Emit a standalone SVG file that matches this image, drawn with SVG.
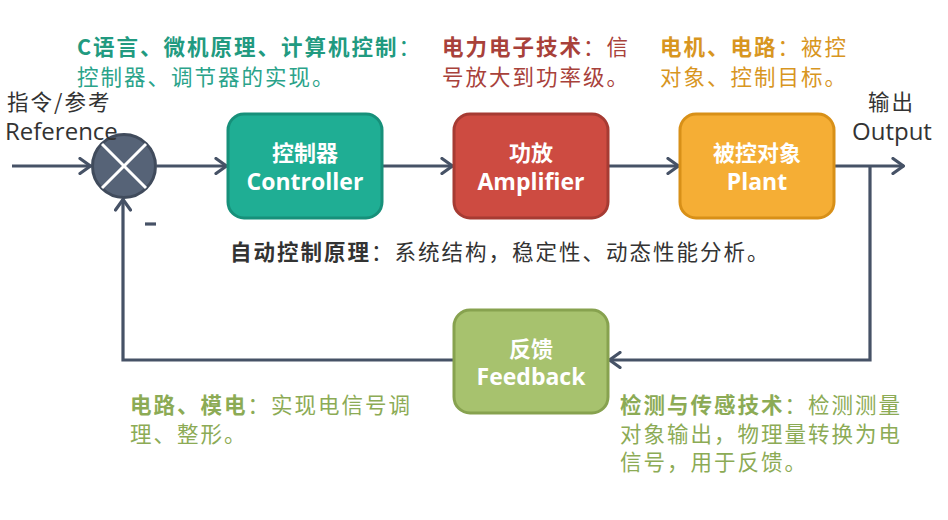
<svg xmlns="http://www.w3.org/2000/svg" width="948" height="520" viewBox="0 0 948 520">
<defs>
<marker id="arr" viewBox="0 0 14 18" refX="13" refY="9" markerWidth="14" markerHeight="18" markerUnits="userSpaceOnUse" orient="auto">
<path d="M2,1.5 L12.5,9 L2,16.5" fill="none" stroke="#465266" stroke-width="3.2" stroke-linecap="round" stroke-linejoin="round"/>
</marker>
<style>
.ln{fill:none;stroke:#465266;stroke-width:3.2}
.box{stroke-width:3}
.nt{font-family:"Open Sans","Noto Sans CJK SC",sans-serif;font-weight:bold;font-size:23px;fill:#ffffff;text-anchor:middle}
.nc{font-family:"Noto Sans CJK SC",sans-serif;font-size:22px}
.t{font-family:"Noto Sans CJK SC",sans-serif;font-size:21.5px;letter-spacing:2px}
.b{font-weight:bold}
.lat{font-family:"Open Sans","Noto Sans CJK SC",sans-serif;font-size:24px;fill:#333333}
</style>
</defs>
<rect width="948" height="520" fill="#ffffff"/>

<g id="connectors">
<line class="ln" x1="12" y1="166" x2="91" y2="166" marker-end="url(#arr)"/>
<line class="ln" x1="157" y1="166" x2="227" y2="166" marker-end="url(#arr)"/>
<line class="ln" x1="383" y1="166" x2="453" y2="166" marker-end="url(#arr)"/>
<line class="ln" x1="609" y1="166" x2="679" y2="166" marker-end="url(#arr)"/>
<line class="ln" x1="835" y1="166" x2="904" y2="166" marker-end="url(#arr)"/>
<polyline class="ln" points="870,166 870,360 609,360" marker-end="url(#arr)"/>
<polyline class="ln" points="453,360 123,360 123,199" marker-end="url(#arr)"/>
<line x1="145" y1="224" x2="156" y2="224" stroke="#465266" stroke-width="3.2"/>
</g>

<g id="sum">
<circle cx="124" cy="166" r="31.5" fill="#566377" stroke="#404b5c" stroke-width="3"/>
<line x1="102" y1="144" x2="146" y2="188" stroke="#ffffff" stroke-width="3"/>
<line x1="146" y1="144" x2="102" y2="188" stroke="#ffffff" stroke-width="3"/>
</g>

<g id="controller">
<rect class="box" x="228" y="114" width="154" height="104" rx="16" fill="#1fae94" stroke="#17907a"/>
<text class="nt" x="305" y="161"><tspan class="nc">控制器</tspan><tspan x="305" y="189.5">Controller</tspan></text>
</g>

<g id="amplifier">
<rect class="box" x="454" y="114" width="154" height="104" rx="16" fill="#cd4b41" stroke="#a63b33"/>
<text class="nt" x="531" y="161"><tspan class="nc">功放</tspan><tspan x="531" y="189.5">Amplifier</tspan></text>
</g>

<g id="plant">
<rect class="box" x="680" y="114" width="154" height="104" rx="16" fill="#f5ae35" stroke="#d89018"/>
<text class="nt" x="757" y="161"><tspan class="nc">被控对象</tspan><tspan x="757" y="189.5">Plant</tspan></text>
</g>

<g id="feedback">
<rect class="box" x="454" y="310" width="154" height="103" rx="16" fill="#a7c26e" stroke="#87a24f"/>
<text class="nt" x="531" y="357"><tspan class="nc">反馈</tspan><tspan x="531" y="385">Feedback</tspan></text>
</g>

<g id="labels">
<text class="t" x="7" y="110" fill="#333333">指令/参考</text>
<text class="lat" x="5" y="140">Reference</text>
<text class="t" x="868" y="110" fill="#333333">输出</text>
<text class="lat" x="852" y="140">Output</text>

<text class="t" x="77" y="55" fill="#219a80"><tspan class="b">C语言、微机原理、计算机控制</tspan>：</text>
<text class="t" x="77" y="85" fill="#2aa38a">控制器、调节器的实现。</text>

<text class="t" x="442" y="55" fill="#a8413a"><tspan class="b">电力电子技术</tspan>：信</text>
<text class="t" x="442" y="85" fill="#a8413a">号放大到功率级。</text>

<text class="t" x="660" y="55" fill="#d8961f"><tspan class="b">电机、电路</tspan>：被控</text>
<text class="t" x="660" y="85" fill="#d8961f">对象、控制目标。</text>

<text class="t" x="230" y="260" fill="#333333"><tspan class="b">自动控制原理</tspan>：系统结构，稳定性、动态性能分析。</text>

<text class="t" x="130" y="413" fill="#8cab55"><tspan class="b">电路、模电</tspan>：实现电信号调</text>
<text class="t" x="130" y="442" fill="#8cab55">理、整形。</text>

<text class="t" x="620" y="413" fill="#8cab55"><tspan class="b">检测与传感技术</tspan>：检测测量</text>
<text class="t" x="620" y="442" fill="#8cab55">对象输出，物理量转换为电</text>
<text class="t" x="620" y="470" fill="#8cab55">信号，用于反馈。</text>
</g>
</svg>
